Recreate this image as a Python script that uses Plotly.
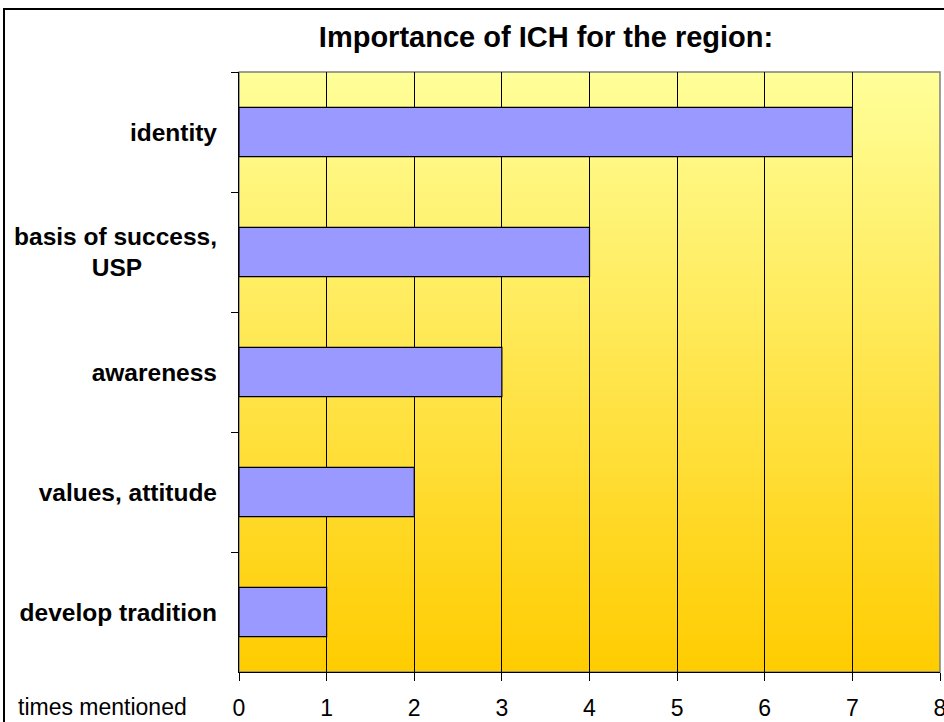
import plotly.graph_objects as go

# data
categories = ["identity", "basis of success,<br>USP" + "\u00a0" * 11, "awareness",
              "values, attitude", "develop tradition"]
times_mentioned = [7, 4, 3, 2, 1]
x_ticks = [0, 1, 2, 3, 4, 5, 6, 7, 8]

fig = go.Figure()

fig.add_trace(go.Bar(
    y=categories,
    x=times_mentioned,
    orientation="h",
    width=0.41,
    marker=dict(color="#9999FF", line=dict(color="black", width=1.2)),
    showlegend=False,
))

# yellow gradient background, light at top to gold at bottom
n = 80
top = (255, 255, 153)
bot = (255, 204, 0)
for i in range(n):
    t = (i + 0.5) / n
    c = tuple(round(top[k] + (bot[k] - top[k]) * t) for k in range(3))
    fig.add_shape(type="rect", xref="paper", yref="paper",
                  x0=0, x1=1, y0=1 - (i + 1) / n, y1=1 - i / n + 0.001,
                  fillcolor="rgb(%d,%d,%d)" % c, line=dict(width=0), layer="below")

# grey plot border top/right
fig.add_shape(type="rect", xref="paper", yref="paper", x0=0, x1=1, y0=0, y1=1,
              line=dict(color="#808080", width=1.5), layer="below")

# outer chart frame
fig.add_shape(type="rect", xref="paper", yref="paper",
              x0=-235 / 701, x1=710 / 701, y0=-55 / 600, y1=1 + 63 / 600,
              line=dict(color="black", width=2))

fig.add_annotation(text="times mentioned", xref="paper", yref="paper",
                   x=-50 / 701, y=-35 / 600, xanchor="right", yanchor="middle",
                   showarrow=False, font=dict(size=23, color="black"))

fig.update_layout(
    width=944, height=722,
    margin=dict(l=239, r=4, t=72, b=50),
    paper_bgcolor="white",
    plot_bgcolor="rgba(0,0,0,0)",
    font=dict(family="Liberation Sans, Arial, sans-serif", color="black"),
    title=dict(text="<b>Importance of ICH for the region:</b>", x=546 / 944, xanchor="center",
               y=1 - 37 / 722, yanchor="middle", font=dict(size=29, color="black")),
    bargap=0.59,
)

fig.update_xaxes(
    range=[0, 8], tickvals=x_ticks, showgrid=True, gridcolor="black", gridwidth=1,
    zeroline=False, showline=True, linecolor="black", linewidth=1.2,
    ticks="outside", ticklen=8, tickcolor="black", automargin=False,
    tickfont=dict(size=23), ticklabelstandoff=7, ticklabeloverflow="allow",
)
fig.update_yaxes(
    autorange="reversed", showgrid=False, showline=True, linecolor="black", linewidth=1.2,
    ticks="outside", tickson="boundaries", ticklen=7, tickcolor="black", automargin=False,
    tickfont=dict(size=24.5, family="Liberation Sans, Arial, sans-serif", weight="bold"),
    ticklabelstandoff=16,
)

fig.write_html("out.html", config={"displayModeBar": False},
               post_script="document.body.style.margin='0';")
